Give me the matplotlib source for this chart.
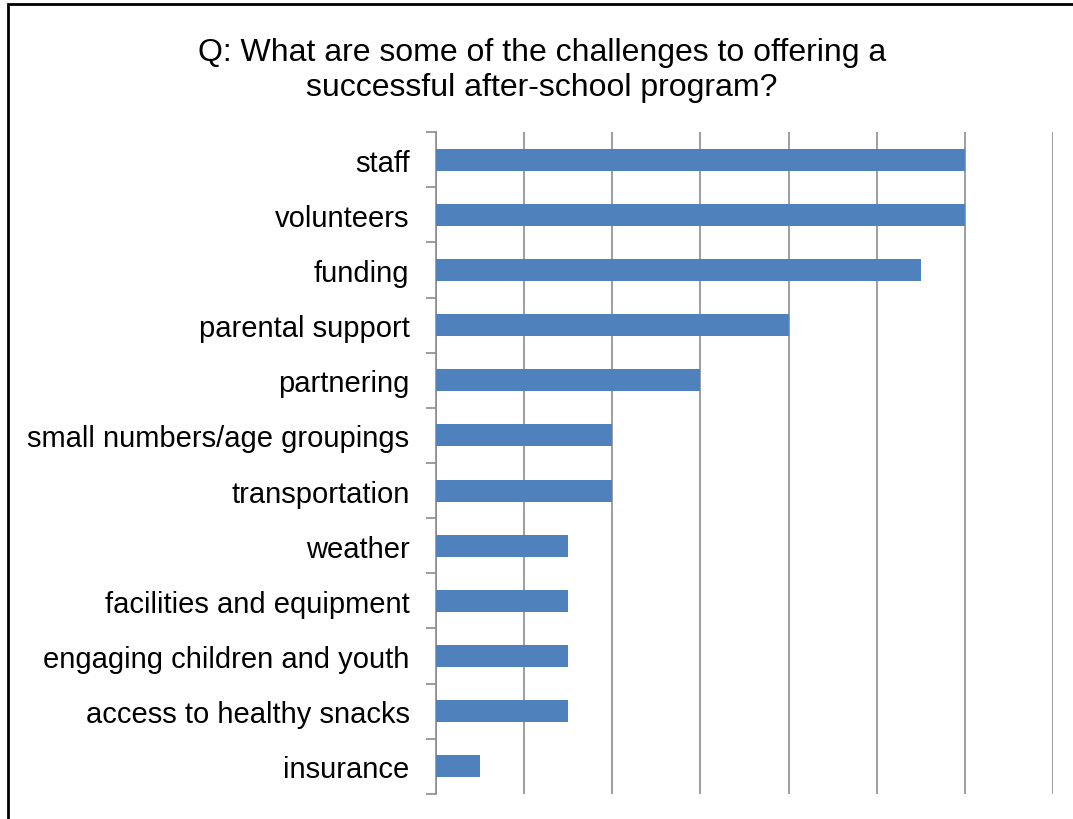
import matplotlib.pyplot as plt
from matplotlib.patches import Rectangle

# Data
categories = ["staff", "volunteers", "funding", "parental support", "partnering",
              "small numbers/age groupings", "transportation", "weather",
              "facilities and equipment", "engaging children and youth",
              "access to healthy snacks", "insurance"]
counts = [12, 12, 11, 8, 6, 4, 4, 3, 3, 3, 3, 1]
grid_ticks = [0, 2, 4, 6, 8, 10, 12, 14]

plt.rcParams['font.family'] = ['Liberation Sans', 'DejaVu Sans']

fig = plt.figure(figsize=(10.73, 8.2), dpi=100)
ax = fig.add_axes([0.4063, 0.0305, 0.9814 - 0.4063, 0.8378 - 0.0305])

y = list(range(len(categories)))
ax.barh(y, counts, height=0.4, color="#4F81BD", zorder=3)
ax.set_ylim(len(categories) - 0.5, -0.5)
ax.set_xlim(0, 14)

ax.set_xticks(grid_ticks)
ax.tick_params(axis='x', length=0, labelbottom=False)
ax.grid(axis='x', color="#8c8c8c", linewidth=1.2)

ax.set_yticks(y)
ax.set_yticklabels(categories, fontsize=21)
ax.set_yticks([i - 0.5 for i in range(len(categories) + 1)], minor=True)
ax.tick_params(axis='y', which='major', length=0, pad=19)
ax.tick_params(axis='y', which='minor', length=7, color="#8c8c8c", width=1.2)

for s in ['top', 'right', 'bottom']:
    ax.spines[s].set_visible(False)
ax.spines['left'].set_color("#8c8c8c")
ax.spines['left'].set_linewidth(1.2)

fig.text(0.505, 0.914, "Q: What are some of the challenges to offering a\nsuccessful after-school program?",
         ha='center', va='center', fontsize=23, linespacing=1.25)

# frame around the chart
fig.patches.append(Rectangle((8 / 1073, -0.1), 1.2, 1 - 5 / 820 + 0.1,
                             transform=fig.transFigure, fill=False,
                             edgecolor="black", linewidth=2))

fig.savefig("out.png", dpi=100)
